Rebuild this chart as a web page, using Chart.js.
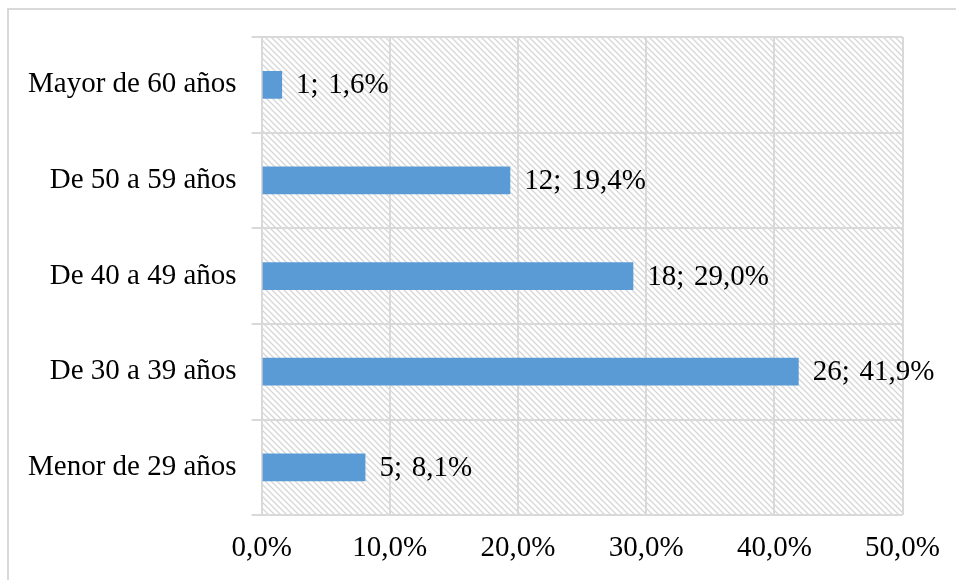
<!DOCTYPE html>
<html>
<head>
<meta charset="utf-8">
<script src="https://cdn.jsdelivr.net/npm/chart.js@4"></script>
<style>
    html, body { margin: 0; padding: 0; background: #fff; }
    #wrap { width: 956px; height: 580px; }
</style>
</head>
<body>
<div id="wrap"><canvas id="ageChart"></canvas></div>
<script>
// top to bottom, as in the picture
const categories = ['Mayor de 60 años', 'De 50 a 59 años', 'De 40 a 49 años', 'De 30 a 39 años', 'Menor de 29 años'];
const counts = [1, 12, 18, 26, 5];
const percents = [1.6, 19.4, 29.0, 41.9, 8.1];
const xTicks = [0, 10, 20, 30, 40, 50];

const fmt = v => v.toFixed(1).replace('.', ',') + '%';

const makeHatch = () => {
    const c = document.createElement('canvas');
    c.width = 6;
    c.height = 6;
    const g = c.getContext('2d');
    g.strokeStyle = '#d6d6d6';
    g.lineWidth = 1.3;
    g.beginPath();
    g.moveTo(-1, -1); g.lineTo(7, 7);
    g.moveTo(-1, 5); g.lineTo(1, 7);
    g.moveTo(5, -1); g.lineTo(7, 1);
    g.stroke();
    return g.createPattern(c, 'repeat');
};

const backdrop = {
    id: 'backdrop',
    beforeDraw(chart) {
        const { ctx, chartArea: a } = chart;
        ctx.save();
        ctx.fillStyle = makeHatch();
        ctx.fillRect(a.left, a.top, a.right - a.left, a.bottom - a.top);
        // outer frame
        ctx.strokeStyle = '#d9d9d9';
        ctx.lineWidth = 2;
        ctx.beginPath();
        ctx.moveTo(8, chart.height + 2);
        ctx.lineTo(8, 9);
        ctx.lineTo(chart.width + 2, 9);
        ctx.stroke();
        ctx.restore();
    }
};

const barLabels = {
    id: 'barLabels',
    afterDatasetsDraw(chart) {
        const { ctx } = chart;
        ctx.save();
        ctx.font = '29px "Liberation Serif"';
        ctx.fillStyle = '#000';
        ctx.textBaseline = 'middle';
        ctx.textAlign = 'left';
        chart.getDatasetMeta(0).data.forEach((bar, i) => {
            ctx.fillText(counts[i] + '; \u200A' + fmt(percents[i]), bar.x + 14, bar.y + 1);
        });
        ctx.restore();
    }
};

const ctx = document.getElementById('ageChart').getContext('2d');
new Chart(ctx, {
    type: 'bar',
    data: {
        labels: categories,
        datasets: [{
            data: percents,
            backgroundColor: '#5b9bd5',
            barPercentage: 0.58,
            categoryPercentage: 0.5
        }]
    },
    options: {
        indexAxis: 'y',
        responsive: true,
        maintainAspectRatio: false,
        animation: false,
        layout: { padding: { left: 13, right: 28, top: 37, bottom: -2 } },
        plugins: {
            legend: { display: false },
            tooltip: { enabled: false }
        },
        scales: {
            x: {
                min: 0,
                max: 50,
                afterBuildTicks: axis => { axis.ticks = xTicks.map(v => ({ value: v })); },
                grid: { color: '#d9d9d9', lineWidth: 2, drawTicks: false },
                border: { display: false },
                ticks: {
                    padding: 16,
                    color: '#000',
                    font: { family: 'Liberation Serif', size: 29 },
                    callback: v => fmt(v)
                }
            },
            y: {
                grid: { color: '#d9d9d9', lineWidth: 2, offset: true, tickLength: 10 },
                border: { display: false },
                ticks: {
                    padding: 15,
                    color: '#000',
                    font: { family: 'Liberation Serif', size: 29 }
                }
            }
        }
    },
    plugins: [backdrop, barLabels]
});
</script>
</body>
</html>
